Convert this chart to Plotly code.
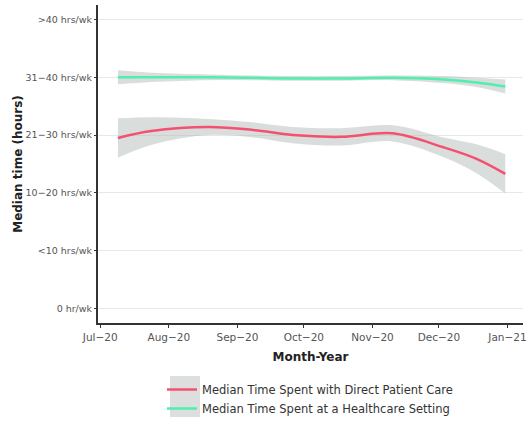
import plotly.graph_objects as go

# ---- data ----
dates = ["2020-07-09", "2020-07-24", "2020-08-19", "2020-09-08", "2020-09-26",
         "2020-10-18", "2020-11-10", "2020-12-03", "2020-12-18", "2020-12-31"]

care_mid = [2.95, 3.07, 3.14, 3.09, 3.00, 2.97, 3.03, 2.79, 2.59, 2.33]
care_se  = [0.34, 0.24, 0.14, 0.13, 0.14, 0.15, 0.14, 0.17, 0.25, 0.34]

setting_mid = [4.00, 4.00, 4.00, 3.99, 3.98, 3.98, 3.99, 3.96, 3.91, 3.84]
setting_se  = [0.12, 0.08, 0.05, 0.04, 0.04, 0.04, 0.04, 0.06, 0.08, 0.12]

y_levels = [0, 1, 2, 3, 4, 5]
y_labels = ["0 hr/wk", "<10 hrs/wk", "10\u221220 hrs/wk", "21\u221230 hrs/wk",
            "31\u221240 hrs/wk", ">40 hrs/wk"]

x_ticks = ["2020-07-01", "2020-08-01", "2020-09-01", "2020-10-01",
           "2020-11-01", "2020-12-01", "2021-01-01"]
x_labels = ["Jul\u221220", "Aug\u221220", "Sep\u221220", "Oct\u221220",
            "Nov\u221220", "Dec\u221220", "Jan\u221221"]

series = [
    ("Median Time Spent with Direct Patient Care", care_mid, care_se, "#F4506F"),
    ("Median Time Spent at a Healthcare Setting", setting_mid, setting_se, "#4FEFB0"),
]

ribbon_fill = "rgba(180,188,186,0.5)"

fig = go.Figure()

# ribbons
for name, mid, se, col in series:
    upper = [m + s for m, s in zip(mid, se)]
    lower = [m - s for m, s in zip(mid, se)]
    fig.add_trace(go.Scatter(x=dates, y=upper, mode="lines",
                             line=dict(width=0, shape="spline"),
                             showlegend=False, hoverinfo="skip"))
    fig.add_trace(go.Scatter(x=dates, y=lower, mode="lines",
                             line=dict(width=0, shape="spline"),
                             fill="tonexty", fillcolor=ribbon_fill,
                             showlegend=False, hoverinfo="skip"))

# lines
for i, (name, mid, se, col) in enumerate(series):
    fig.add_trace(go.Scatter(x=dates, y=mid, mode="lines", name=name,
                             legendgroup=f"g{i}",
                             line=dict(color=col, width=2.5, shape="spline")))

font_family = "DejaVu Sans, Liberation Sans, sans-serif"

FW, FH = 529, 423
L, R, T, B = 98, 6, 5, 100
PW, PH = FW - L - R, FH - T - B


def fx(px):
    return (px - L) / PW


def fy(py):
    return (FH - B - py) / PH


# legend key background (like ggplot's grey key boxes)
fig.add_shape(type="rect", xref="paper", yref="paper",
              x0=fx(170), x1=fx(200), y0=fy(376), y1=fy(417),
              fillcolor="#DCDFDE", line=dict(width=0), layer="below")

fig.update_layout(
    width=FW, height=FH,
    margin=dict(l=L, r=R, t=T, b=B, autoexpand=False),
    paper_bgcolor="white", plot_bgcolor="white",
    font=dict(family=font_family, size=9.5, color="#555555"),
    showlegend=True,
    legend=dict(x=fx(162), y=fy(375), xanchor="left", yanchor="top",
                orientation="v", traceorder="normal",
                font=dict(size=11.5, color="#333333"),
                itemwidth=30, tracegroupgap=2, bgcolor="rgba(0,0,0,0)"),
    xaxis=dict(
        type="date", automargin=False, ticklabeloverflow="allow",
        range=["2020-06-30", "2021-01-08"],
        tickvals=x_ticks, ticktext=x_labels,
        showgrid=False, zeroline=False,
        showline=True, linecolor="#333333", linewidth=2,
        ticks="outside", ticklen=3, tickcolor="#333333",
        tickfont=dict(size=10.5, color="#555555"),
        title=dict(text="<b>Month-Year</b>", font=dict(size=12, color="#222222"),
                   standoff=11),
    ),
    yaxis=dict(
        range=[-0.25, 5.25], automargin=False,
        tickvals=y_levels, ticktext=y_labels,
        showgrid=True, gridcolor="#E6E9E8", gridwidth=1,
        zeroline=False,
        showline=True, linecolor="#333333", linewidth=2,
        ticks="outside", ticklen=2, tickcolor="#333333",
        tickfont=dict(size=9.5, color="#555555"),
        title=dict(text="<b>Median time (hours)</b>", font=dict(size=12, color="#222222"),
                   standoff=0),
    ),
)

# remove the browser's default 8px body margin so the figure fills the window
fig.write_html("out.html", config={"displayModeBar": False},
               post_script="document.body.style.margin='0';")
